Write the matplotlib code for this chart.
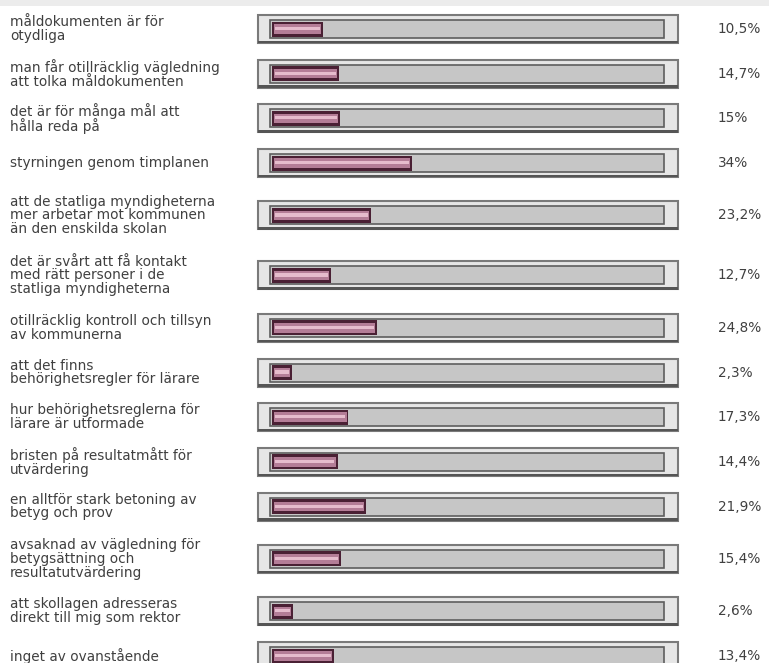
import matplotlib
matplotlib.use("Agg")
import matplotlib.pyplot as plt
import matplotlib.transforms as mtransforms
from matplotlib.patches import Rectangle

# survey answers and share of respondents (%)
labels = [
    "måldokumenten är för\notydliga",
    "man får otillräcklig vägledning\natt tolka måldokumenten",
    "det är för många mål att\nhålla reda på",
    "styrningen genom timplanen",
    "att de statliga myndigheterna\nmer arbetar mot kommunen\nän den enskilda skolan",
    "det är svårt att få kontakt\nmed rätt personer i de\nstatliga myndigheterna",
    "otillräcklig kontroll och tillsyn\nav kommunerna",
    "att det finns\nbehörighetsregler för lärare",
    "hur behörighetsreglerna för\nlärare är utformade",
    "bristen på resultatmått för\nutvärdering",
    "en alltför stark betoning av\nbetyg och prov",
    "avsaknad av vägledning för\nbetygsättning och\nresultatutvärdering",
    "att skollagen adresseras\ndirekt till mig som rektor",
    "inget av ovanstående",
]
values = [10.5, 14.7, 15, 34, 23.2, 12.7, 24.8, 2.3, 17.3, 14.4, 21.9, 15.4, 2.6, 13.4]

W, H = 769, 663
PX = 3.786          # pixels per percent
X0 = 283            # pixel column of 0 %

fig = plt.figure(figsize=(W / 100, H / 100), dpi=100)
fig.patch.set_facecolor("white")
ax = fig.add_axes([0, 0, 1, 1])
ax.set_xlim(-X0 / PX, (W - X0) / PX)
ax.set_ylim(H, 0)
ax.axis("off")

# faint header strip cut off at the top
fig.patches.append(Rectangle((0, 1 - 6 / H), 1, 6 / H, transform=fig.transFigure,
                             facecolor="#ececec", edgecolor="none"))

# row centres follow the number of label lines
heights = [44.7 if lab.count("\n") < 2 else 60 for lab in labels]
ys = [29.0]
for i in range(1, len(labels)):
    ys.append(ys[-1] + (heights[i - 1] + heights[i]) / 2)

pad = 3.0            # rounded start of each bar, left of 0 %
frame_l, frame_r = -6.6, 104.3
track_l, track_r = -3.4, 100.6

# outer frame with darker shadow
ax.barh(ys, frame_r - frame_l, left=frame_l, height=28, color="#e6e6e6",
        edgecolor="#7a7a7a", linewidth=1.5, zorder=1)
ax.barh([y + 13 for y in ys], frame_r - frame_l, left=frame_l, height=2.5,
        color="#555555", linewidth=0, zorder=1.5)
# grey track
ax.barh(ys, track_r - track_l, left=track_l, height=18, color="#c6c6c6",
        edgecolor="#5e5e5e", linewidth=1.2, zorder=2)

# value bars: dark outline, pink body, light highlight
ax.barh(ys, [v + pad for v in values], left=-pad, height=15, color="#4a2034",
        linewidth=0, zorder=3)
ax.barh(ys, [v + pad - 1.0 for v in values], left=-pad + 0.5, height=9.5,
        color="#b47d97", linewidth=0, zorder=4)
ax.barh([y - 0.5 for y in ys], [v + pad - 1.6 for v in values], left=-pad + 0.8,
        height=3.2, color="#e6bccd", linewidth=0, zorder=5)

lab_tr = mtransforms.blended_transform_factory(fig.transFigure, ax.transData)
for y, lab, v in zip(ys, labels, values):
    ax.text(10 / W, y, lab, transform=lab_tr, ha="left", va="center",
            fontsize=9.8, color="#404040", linespacing=0.98,
            family="DejaVu Sans")
    txt = f"{v:g}".replace(".", ",") + "%"
    ax.text(718 / W, y, txt, transform=lab_tr, ha="left", va="center",
            fontsize=9.8, color="#404040", family="DejaVu Sans")

fig.savefig("out.png", dpi=100)
